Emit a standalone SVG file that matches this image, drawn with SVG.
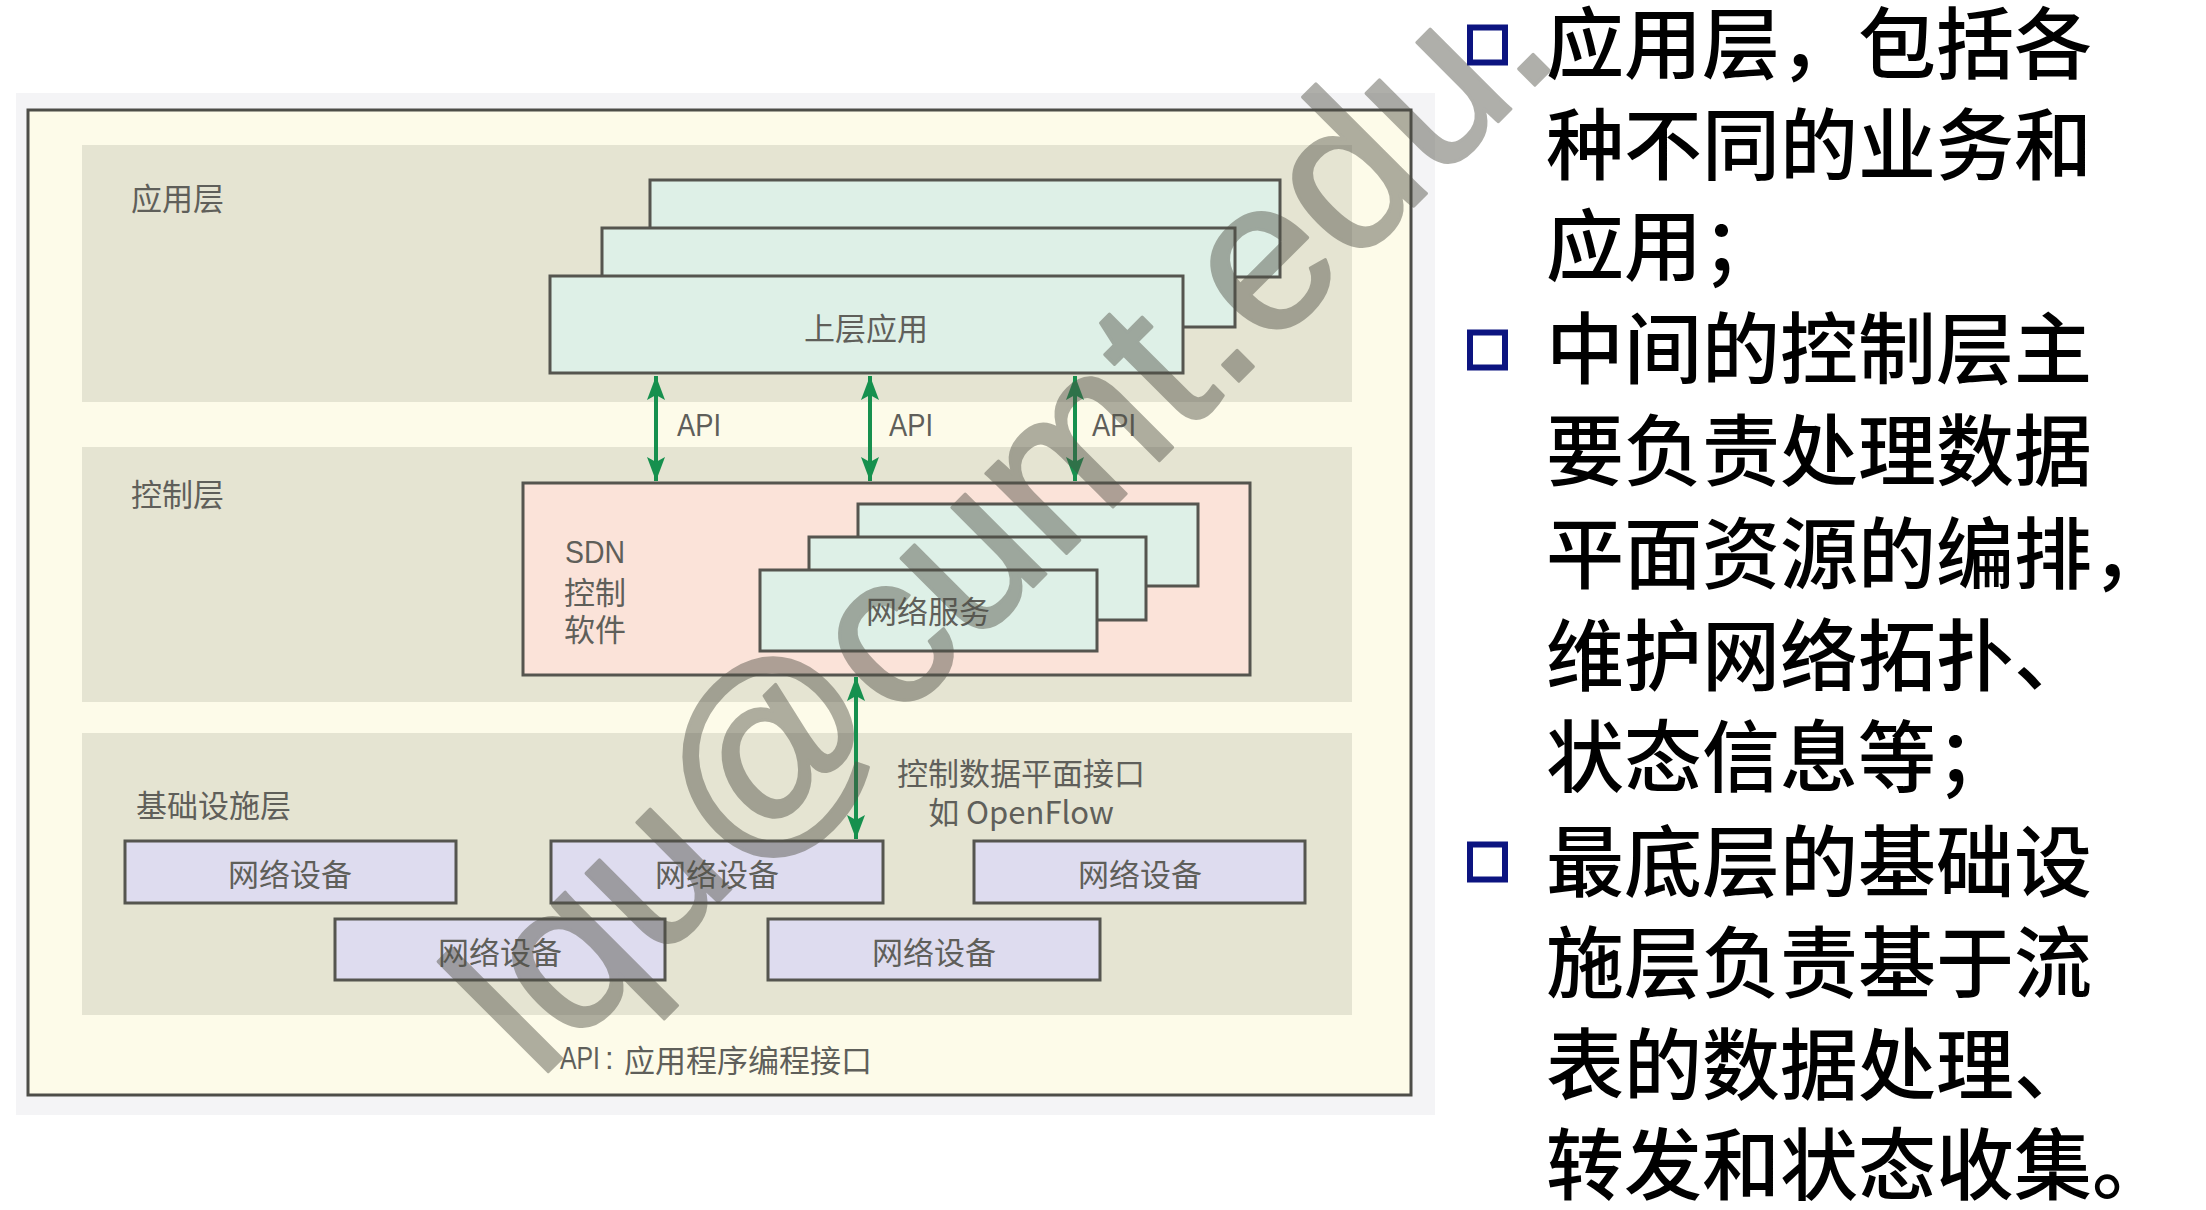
<svg xmlns="http://www.w3.org/2000/svg" width="2206" height="1210" viewBox="0 0 2206 1210">
  <defs>
    <style>
      .band { fill: #e5e4d2; }
      .mint { fill: #def0e7; stroke: #55554f; stroke-width: 3; }
      .pink { fill: #fbe3d9; stroke: #55554f; stroke-width: 3; }
      .dev { fill: #dedcef; stroke: #55554f; stroke-width: 3; }
      .lbl { font-family: "Noto Sans CJK SC", "Liberation Sans", sans-serif; font-size: 31px; fill: #5f5f5a; }
      .lat { font-family: "Liberation Sans", "Noto Sans CJK SC", sans-serif; font-size: 31px; fill: #5f5f5a; }
      .conn { stroke: #16904e; stroke-width: 4; fill: none; marker-start: url(#ah); marker-end: url(#ah); }
      .body { font-family: "Noto Sans CJK SC", sans-serif; font-size: 78px; font-weight: 500; fill: #000; dominant-baseline: central; }
      .bul { fill: none; stroke: #0c1480; stroke-width: 6; }
    </style>
    <marker id="ah" viewBox="0 0 24 18" refX="24" refY="9" markerWidth="24" markerHeight="18" markerUnits="userSpaceOnUse" orient="auto-start-reverse">
      <path d="M0,0 L24,9 L0,18 L5,9 z" fill="#16904e"/>
    </marker>
  </defs>

  <rect x="0" y="0" width="2206" height="1210" fill="#ffffff"/>

  <g id="diagram-frame">
    <rect x="16" y="93" width="1419" height="1022" fill="#f4f4f6"/>
    <rect x="28" y="110" width="1383" height="985" fill="#fdfbe9" stroke="#4d4d48" stroke-width="3"/>
  </g>

  <g id="layer-app">
    <rect class="band" x="82" y="145" width="1270" height="257"/>
    <text class="lbl" x="131" y="196" dominant-baseline="central">应用层</text>
  </g>
  <g id="layer-control">
    <rect class="band" x="82" y="447" width="1270" height="255"/>
    <text class="lbl" x="131" y="492" dominant-baseline="central">控制层</text>
  </g>
  <g id="layer-infra">
    <rect class="band" x="82" y="733" width="1270" height="282"/>
    <text class="lbl" x="136" y="803" dominant-baseline="central">基础设施层</text>
  </g>

  <g id="app-stack">
    <rect class="mint" x="650" y="180" width="630" height="97"/>
    <rect class="mint" x="602" y="228" width="633" height="99"/>
    <rect class="mint" x="550" y="276" width="633" height="97"/>
    <text class="lbl" x="866" y="326" text-anchor="middle" dominant-baseline="central">上层应用</text>
  </g>

  <g id="sdn-controller">
    <rect class="pink" x="523" y="483" width="727" height="192"/>
    <text class="lat" x="565" y="552" dominant-baseline="central" textLength="60" lengthAdjust="spacingAndGlyphs">SDN</text>
    <text class="lbl" x="564" y="590" dominant-baseline="central">控制</text>
    <text class="lbl" x="564" y="627" dominant-baseline="central">软件</text>
  </g>

  <g id="net-services">
    <rect class="mint" x="858" y="504" width="340" height="82"/>
    <rect class="mint" x="809" y="537" width="337" height="83"/>
    <rect class="mint" x="760" y="570" width="337" height="81"/>
    <text class="lbl" x="928" y="609" text-anchor="middle" dominant-baseline="central">网络服务</text>
  </g>

  <g id="device-1">
    <rect class="dev" x="125" y="841" width="331" height="62"/>
    <text class="lbl" x="290" y="872" text-anchor="middle" dominant-baseline="central">网络设备</text>
  </g>
  <g id="device-2">
    <rect class="dev" x="551" y="841" width="332" height="62"/>
    <text class="lbl" x="717" y="872" text-anchor="middle" dominant-baseline="central">网络设备</text>
  </g>
  <g id="device-3">
    <rect class="dev" x="974" y="841" width="331" height="62"/>
    <text class="lbl" x="1140" y="872" text-anchor="middle" dominant-baseline="central">网络设备</text>
  </g>
  <g id="device-4">
    <rect class="dev" x="335" y="919" width="330" height="61"/>
    <text class="lbl" x="500" y="950" text-anchor="middle" dominant-baseline="central">网络设备</text>
  </g>
  <g id="device-5">
    <rect class="dev" x="768" y="919" width="332" height="61"/>
    <text class="lbl" x="934" y="950" text-anchor="middle" dominant-baseline="central">网络设备</text>
  </g>

  <g id="connectors">
    <line class="conn" x1="656" y1="376" x2="656" y2="481"/>
    <line class="conn" x1="870" y1="376" x2="870" y2="481"/>
    <line class="conn" x1="1075" y1="376" x2="1075" y2="481"/>
    <line class="conn" x1="856" y1="677" x2="856" y2="839"/>
    <text class="lat" x="677" y="425" dominant-baseline="central" textLength="44" lengthAdjust="spacingAndGlyphs">API</text>
    <text class="lat" x="889" y="425" dominant-baseline="central" textLength="44" lengthAdjust="spacingAndGlyphs">API</text>
    <text class="lat" x="1092" y="425" dominant-baseline="central" textLength="44" lengthAdjust="spacingAndGlyphs">API</text>
    <text class="lbl" x="1021" y="771" text-anchor="middle" dominant-baseline="central">控制数据平面接口</text>
    <text class="lbl" x="1021" y="810" text-anchor="middle" dominant-baseline="central">如 OpenFlow</text>
  </g>

  <g id="caption">
    <text class="lat" x="560" y="1058" dominant-baseline="central" textLength="40" lengthAdjust="spacingAndGlyphs">API</text>
    <text class="lat" x="605" y="1058" dominant-baseline="central">:</text>
    <text class="lbl" x="624" y="1058" dominant-baseline="central">应用程序编程接口</text>
  </g>

  <g id="bullets">
    <rect class="bul" x="1470" y="27.5" width="35" height="35"/>
    <rect class="bul" x="1470" y="332.5" width="35" height="35"/>
    <rect class="bul" x="1470" y="844.5" width="35" height="35"/>
    <text class="body" x="1546" y="39">应用层，包括各</text>
    <text class="body" x="1546" y="140">种不同的业务和</text>
    <text class="body" x="1546" y="241">应用；</text>
    <text class="body" x="1546" y="344">中间的控制层主</text>
    <text class="body" x="1546" y="446">要负责处理数据</text>
    <text class="body" x="1546" y="549">平面资源的编排，</text>
    <text class="body" x="1546" y="651">维护网络拓扑、</text>
    <text class="body" x="1546" y="752">状态信息等；</text>
    <text class="body" x="1546" y="857">最底层的基础设</text>
    <text class="body" x="1546" y="958">施层负责基于流</text>
    <text class="body" x="1546" y="1060">表的数据处理、</text>
    <text class="body" x="1546" y="1160">转发和状态收集。</text>
  </g>

  <g id="watermark">
    <text transform="translate(538,1082) rotate(-45)" x="0" y="0" font-family="Liberation Sans, sans-serif" font-size="215" fill="#4f4f45" stroke="#4f4f45" stroke-width="3" stroke-linejoin="round" opacity="0.45" textLength="1450" lengthAdjust="spacing">lqu@cumt.edu.</text>
  </g>
</svg>
